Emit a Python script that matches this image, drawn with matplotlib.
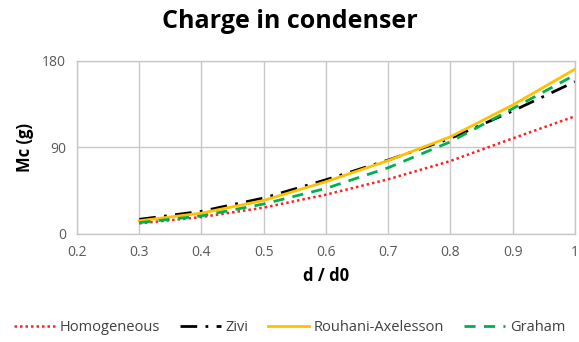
import matplotlib
matplotlib.use("Agg")
import matplotlib.pyplot as plt

x = [0.3, 0.4, 0.5, 0.6, 0.7, 0.8, 0.9, 1.0]
homogeneous = [10.6, 17.2, 27.0, 40.5, 56.5, 75.5, 99.0, 122.0]
zivi = [14.8, 23.2, 37.0, 56.0, 76.5, 99.0, 127.5, 158.0]
rouhani = [13.3, 21.3, 34.5, 54.0, 76.0, 100.7, 133.7, 171.0]
graham = [11.4, 18.4, 30.8, 47.0, 68.5, 95.5, 130.0, 165.0]

xticks = [0.2, 0.3, 0.4, 0.5, 0.6, 0.7, 0.8, 0.9, 1.0]
xticklabels = ["0.2", "0.3", "0.4", "0.5", "0.6", "0.7", "0.8", "0.9", "1"]
yticks = [0, 90, 180]

plt.rcParams['font.family'] = ['Open Sans', 'DejaVu Sans']

fig = plt.figure(figsize=(5.79, 3.42), dpi=100)
ax = fig.add_axes([0.133, 0.317, 0.860, 0.506])

ax.plot(x, homogeneous, color='#ff2020', lw=1.8, linestyle=(0, (1, 1.2)), label='Homogeneous')
ax.plot(x, zivi, color='#000000', lw=2.0, linestyle=(0, (6, 3, 1, 3)), label='Zivi')
ax.plot(x, rouhani, color='#ffc000', lw=2.0, linestyle='-', label='Rouhani-Axelesson')
ax.plot(x, graham, color='#00b050', lw=2.0, linestyle=(0, (4, 3)), label='Graham')

ax.set_xlim(0.2, 1.0)
ax.set_ylim(0, 180)
ax.set_xticks(xticks)
ax.set_xticklabels(xticklabels)
ax.set_yticks(yticks)
ax.grid(True, color='#c8c8c8', lw=1.0)
ax.set_axisbelow(True)
for s in ax.spines.values():
    s.set_color('#c8c8c8')
    s.set_linewidth(1.0)
ax.tick_params(length=0, labelsize=10, colors='#595959', pad=8)

ax.set_xlabel('d / d0', fontsize=12, fontweight='bold', labelpad=5)
ax.set_ylabel('Mc (g)', fontsize=12, fontweight='bold', labelpad=6)
fig.suptitle('Charge in condenser', x=0.5, y=0.975, fontsize=18, fontweight='bold')

fig.legend(loc='center', bbox_to_anchor=(0.5, 0.042), ncol=4, frameon=False,
           fontsize=10.5, handlelength=2.8, columnspacing=1.4, handletextpad=0.3,
           labelcolor='#404040')

fig.savefig('out.png', dpi=100)
